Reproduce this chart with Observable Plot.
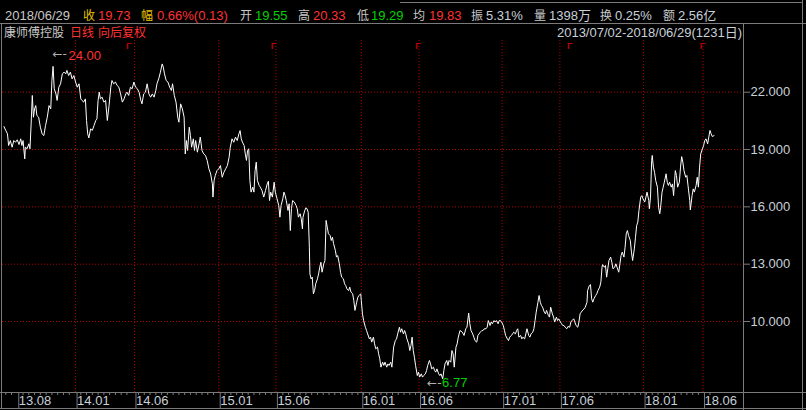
<!DOCTYPE html>
<html><head><meta charset="utf-8">
<script src="https://cdn.jsdelivr.net/npm/d3@7"></script>
<script src="https://cdn.jsdelivr.net/npm/@observablehq/plot@0.6"></script>
<style>
html,body{margin:0;padding:0;background:#000;}
#wrap{position:relative;width:806px;height:410px;background:#000;overflow:hidden;}
#wrap svg{position:absolute;left:0;top:0;}
.ln{position:absolute;background:#7a7a7a;}
</style></head><body><div id="wrap"></div>
<script>
// ---------- data ----------
const quoteDate = "2018/06/29";
const quoteLabels = ["收","幅","开","高","低","均","振","量","换","额"];
const quoteValues = ["19.73","0.66%(0.13)","19.55","20.33","19.29","19.83","5.31%","1398万","0.25%","2.56亿"];
const stockName = "康师傅控股";
const chartTags = ["日线","向后复权"];
const periodText = "2013/07/02-2018/06/29(1231日)";
const yTicks = [10, 13, 16, 19, 22];
const xTickDays = [23, 124, 226, 372, 471, 619, 719, 863, 963, 1108, 1211];
const xTickLabels = ["13.08","14.01","14.06","15.01","15.06","16.01","16.06","17.01","17.06","18.01","18.06"];
const rightsDays = [216, 467, 717, 980, 1210];
const highMark = {day: 84, value: 24.00, label: "24.00"};
const lowMark = {day: 733, value: 6.77, label: "6.77"};
// [trading-day index, close]
const closeByDay = [
[0,20.2],[3,20.0],[6,19.82],[8,19.21],[11,19.47],[14,19.12],[17,19.47],[20,19.38],[23,19.51],[26,19.26],[29,19.56],[31,19.21],[33,19.47],[36,18.51],[37,19.12],[40,19.04],[43,19.3],[45,19.04],[47,20.34],[49,21.83],[51,20.69],[53,21.13],[55,21.3],[57,20.78],[60,20.69],[63,20.17],[66,19.82],[69,19.73],[72,20.26],[75,20.69],[78,21.3],[81,21.13],[83,22.61],[85,23.35],[87,22.18],[90,21.91],[92,21.57],[95,22.26],[98,22.44],[101,22.96],[104,23.05],[107,22.96],[109,23.14],[112,22.87],[115,23.05],[118,22.7],[121,22.87],[124,22.53],[127,22.26],[130,22.44],[133,21.65],[135,21.57],[138,21.48],[141,21.65],[143,20.52],[145,19.82],[147,19.61],[150,20.08],[153,20.0],[156,20.26],[159,20.52],[161,20.61],[163,21.57],[165,22.0],[167,21.65],[170,21.74],[173,21.48],[176,21.57],[179,20.52],[182,21.3],[185,22.26],[187,22.61],[190,22.44],[193,22.53],[196,22.35],[199,22.26],[202,21.91],[205,21.48],[208,21.65],[211,21.91],[213,22.0],[216,21.83],[219,22.26],[222,22.18],[225,22.53],[228,22.26],[231,22.18],[234,22.0],[237,21.57],[239,21.39],[242,21.91],[245,22.0],[248,22.44],[251,21.91],[254,21.74],[257,21.91],[260,21.74],[263,22.09],[265,22.44],[268,22.7],[271,23.05],[274,23.48],[276,23.31],[278,22.96],[281,22.61],[284,22.53],[287,22.26],[290,22.09],[292,22.44],[295,21.83],[298,21.48],[301,20.69],[303,20.43],[306,21.39],[309,21.13],[312,20.69],[314,18.77],[316,19.47],[318,18.95],[321,20.17],[323,19.73],[325,19.12],[328,19.56],[330,18.95],[332,19.47],[335,18.86],[338,19.3],[340,19.65],[343,18.95],[346,18.77],[349,18.69],[352,18.43],[355,17.99],[358,17.72],[361,17.2],[362,16.51],[364,17.38],[366,17.64],[369,17.9],[372,17.99],[375,18.16],[378,17.55],[381,17.81],[384,17.99],[387,18.16],[390,18.6],[392,19.12],[395,19.56],[398,19.38],[401,19.65],[404,19.47],
[407,19.82],[409,19.99],[411,19.56],[413,19.39],[416,19.21],[418,18.77],[420,18.43],[422,18.95],[424,19.04],[426,17.38],[428,16.77],[431,17.03],[433,16.77],[435,17.9],[437,18.34],[439,17.38],[442,17.12],[444,17.03],[447,16.85],[450,16.51],[453,16.85],[456,17.2],[458,17.34],[460,16.33],[462,16.77],[465,16.51],[468,17.29],[470,16.77],[473,16.42],[476,16.07],[478,15.46],[480,16.07],[483,16.42],[485,16.77],[487,16.59],[489,16.33],[492,15.81],[494,16.16],[496,14.76],[498,15.9],[500,16.33],[503,16.25],[506,16.07],[508,15.9],[510,15.46],[513,15.64],[515,15.37],[517,14.85],[518,15.46],[521,15.81],[523,15.95],[525,15.9],[527,15.72],[529,13.89],[530,12.49],[532,12.23],[534,12.32],[536,11.45],[538,11.62],[540,11.97],[543,12.23],[545,12.49],[547,12.84],[549,13.1],[551,12.58],[554,13.02],[556,13.19],[558,15.29],[560,14.94],[562,14.59],[565,14.5],[567,14.24],[569,14.41],[571,14.07],[574,13.72],[576,13.37],[578,13.45],[581,13.02],[583,12.58],[585,12.32],[588,12.23],[590,11.97],[592,11.88],[594,11.71],[597,11.62],[599,11.8],[601,11.54],[604,11.45],[606,11.1],[608,10.58],[611,11.01],[613,11.27],[615,11.36],[618,11.45],[619,11.1],[621,10.4],[623,10.05],[626,9.7],[628,9.53],[630,9.35],[633,9.09],[635,9.18],[637,8.92],[640,9.18],[642,8.83],[644,8.57],[647,8.66],[649,8.31],[651,8.05],[653,7.61],[656,7.87],[658,7.7],[660,7.87],[663,7.61],[665,7.78],[667,7.7],[670,7.87],[672,7.61],[674,8.31],[675,8.66],[678,9.01],[680,9.09],[682,9.35],[685,9.7],[687,9.44],[689,9.62],[692,9.35],[694,9.53],[696,9.35],[698,9.09],[701,8.83],[703,8.48],[705,8.74],[707,9.18],[709,8.48],[711,8.13],[713,7.7],[716,7.17],[718,7.35],[720,7.09],[723,7.26],[725,7.09],[727,7.17],[730,7.26],[732,7.43],[734,7.7],[737,7.96],[739,7.78],[741,7.52],[744,7.61],[746,7.43],[748,7.35],[750,7.52],[753,7.26],[755,7.17],[757,7.26],[760,7.0],[762,7.43],[764,7.78],[767,7.96],[769,7.7],[771,7.96],[774,7.87],[776,8.48],[778,8.31],[780,7.61],[783,8.66],[785,8.83],[787,9.18],[790,9.53],
[794,9.44],[797,9.27],[800,9.62],[802,9.7],[805,10.44],[807,9.88],[809,9.53],[812,9.35],[814,9.18],[816,9.0],[819,8.92],[821,9.27],[823,9.35],[825,9.44],[828,9.53],[830,9.53],[832,9.62],[835,9.62],[837,9.7],[839,10.05],[842,9.79],[844,9.97],[846,9.88],[849,10.05],[851,9.97],[853,10.05],[856,9.88],[858,10.05],[860,10.05],[862,9.97],[865,9.79],[867,9.53],[869,9.27],[872,9.09],[874,9.0],[876,9.18],[879,9.27],[881,9.35],[883,9.44],[886,9.35],[888,9.53],[890,9.62],[892,9.18],[895,9.27],[897,9.09],[899,9.18],[902,9.09],[904,9.35],[906,9.62],[909,9.27],[911,9.18],[913,9.35],[916,9.44],[918,9.62],[920,10.05],[922,10.49],[925,11.01],[927,11.36],[929,11.01],[931,10.84],[933,10.75],[936,10.49],[938,10.4],[940,10.58],[943,10.32],[945,10.23],[947,10.75],[950,10.4],[952,10.23],[954,9.97],[957,10.23],[959,10.05],[961,10.14],[964,9.97],[966,9.88],[968,9.79],[970,9.79],[973,9.67],[975,9.62],[977,9.74],[980,9.7],[982,9.97],[984,10.05],[987,10.14],[989,9.97],[991,9.79],[994,9.7],[996,9.97],[998,10.4],[1000,10.49],[1003,10.61],[1005,10.66],[1007,10.75],[1010,11.01],[1011,11.62],[1014,11.88],[1016,11.93],[1018,11.19],[1020,11.01],[1022,11.19],[1025,11.36],[1027,11.45],[1029,11.62],[1032,11.8],[1034,12.06],[1036,12.84],[1037,12.98],[1040,12.84],[1042,12.93],[1044,12.32],[1046,12.76],[1048,13.19],[1051,13.37],[1053,13.1],[1055,12.76],[1058,12.84],[1060,13.02],[1062,12.84],[1065,12.58],[1067,13.02],[1069,13.45],[1071,13.63],[1074,13.37],[1076,13.89],[1078,14.59],[1080,14.76],[1082,14.5],[1085,14.24],[1087,13.63],[1089,13.19],[1092,13.8],[1094,14.41],[1096,15.02],[1098,15.2],[1100,15.81],[1103,16.51],[1105,16.59],[1107,16.42],[1110,16.25],[1112,16.51],[1114,16.77],[1117,16.33],[1118,15.9],[1120,16.51],[1122,18.43],[1123,18.69],[1125,18.08],[1127,17.81],[1129,17.38],[1132,17.03],[1134,15.98],[1136,15.64],[1137,15.81],[1140,16.77],[1142,17.03],[1144,17.29],[1147,17.73],[1149,17.29],[1151,17.12],[1153,17.29],[1156,17.03],[1158,17.2],[1160,16.59],[1163,17.9],[1165,17.64],[1167,17.03],[1170,17.29],[1172,18.08],[1174,18.63],[1176,18.34],[1178,17.9],[1181,17.55],[1183,17.64],[1185,17.12],[1188,16.33],[1189,15.84],[1192,16.59],[1194,16.94],[1196,16.77],[1199,17.12],[1201,17.55],[1203,17.03],[1205,18.08],[1207,18.77],[1210,19.04],[1212,19.21],[1214,19.47],[1216,19.56],[1219,19.3],[1221,19.65],[1223,20.0],[1225,19.82],[1227,19.68],[1230,19.73]
];

// ---------- style / layout ----------
const W = 806, H = 410;
const GRAY = "#7a7a7a", GRID = "#b00000", TXT = "#c8d0d8", LT = "#c8c8c8";
const RED = "#ff3232", GREEN = "#00d200", YELLOW = "#e8c000";
const NUM = "'Liberation Sans', Arial, sans-serif";
const CJK = "'Noto Sans CJK SC', sans-serif";
const MIX = "'Liberation Sans', 'Noto Sans CJK SC', sans-serif";

const series = closeByDay.map(([day, close]) => ({day, close}));
const minorDays = d3.range(3, 1231, 10).filter(d => xTickDays.every(t => Math.abs(t - d) > 3));

const chart = Plot.plot({
  width: W, height: H,
  marginTop: 40, marginBottom: 18, marginLeft: 2, marginRight: 63,
  style: {background: "transparent", fontFamily: NUM, fontSize: "13px", overflow: "visible"},
  x: {domain: [0, 1230], range: [3.5, 713.5], label: null},
  y: {domain: [10, 22], range: [321, 91.7], label: null},
  marks: [
    Plot.ruleY(yTicks, {stroke: GRID, strokeDasharray: "1,2"}),
    Plot.ruleX(xTickDays.slice(1), {stroke: GRID, strokeDasharray: "1,2"}),
    Plot.axisY({ticks: yTicks, anchor: "right", tickSize: 6, tickPadding: 1, label: null,
      tickFormat: d => d.toFixed(3), stroke: GRAY, fill: TXT, fontSize: 13}),
    Plot.axisX({ticks: xTickDays, anchor: "bottom", tickSize: 16, tickPadding: -13, label: null,
      textAnchor: "start", dx: 1.5, tickFormat: d => xTickLabels[xTickDays.indexOf(d)],
      stroke: GRAY, fill: TXT, fontSize: 13}),
    Plot.axisX({ticks: minorDays, anchor: "bottom", tickSize: 3, label: null, tickFormat: () => "", stroke: GRAY}),
    Plot.line(series, {x: "day", y: "close", stroke: "#ffffff", strokeWidth: 1}),
    Plot.text(rightsDays, {x: d => d, frameAnchor: "top", lineAnchor: "top", text: () => "Γ",
      fill: "#c00000", fontSize: 9, fontWeight: "bold", dy: 2.5}),
    Plot.text([highMark, lowMark], {x: "day", y: "value", text: () => "←-", textAnchor: "start",
      fill: "#b0b0b0", fontSize: 12, fontFamily: "'DejaVu Sans', sans-serif"}),
    Plot.text([highMark], {x: "day", y: "value", text: "label", textAnchor: "start", dx: 16, dy: 2, fill: RED}),
    Plot.text([lowMark], {x: "day", y: "value", text: "label", textAnchor: "start", dx: 15, dy: 0, fill: GREEN})
  ]
});

const wrap = document.getElementById("wrap");
// frame lines (layout)
[[0, 23, W, 1], [743, 24, 1, H - 24], [0, 392, W, 1], [0, 408, W, 1], [1, 24, 1, 384], [802, 0, 1, H], [400, 2, 402, 1]]
  .forEach(([l, t, w, h]) => {
    const d = document.createElement("div");
    d.className = "ln";
    Object.assign(d.style, {left: l + "px", top: t + "px", width: w + "px", height: h + "px"});
    wrap.appendChild(d);
  });
wrap.appendChild(chart);

// header texts
const svg = d3.select(chart);
const g = svg.append("g");
const put = (x, y, s, fill, font, size, anchor = "start") =>
  g.append("text").attr("x", x).attr("y", y).attr("fill", fill).attr("font-family", font)
   .attr("font-size", size).attr("text-anchor", anchor).text(s);

const headerPos = [[83,98],[141,157],[240,255],[298,313],[357,371],[413,429],[471,486],[534,549],[600,615],[663,678]];
const labelColors = [YELLOW, YELLOW, LT, LT, LT, LT, LT, LT, LT, LT];
const valueColors = [RED, RED, GREEN, RED, GREEN, RED, TXT, TXT, TXT, TXT];
put(5, 19.5, quoteDate, LT, NUM, 13);
quoteLabels.forEach((s, i) => {
  put(headerPos[i][0], 19.5, s, labelColors[i], CJK, 12);
  put(headerPos[i][1], 19.5, quoteValues[i], valueColors[i], MIX, 13);
});
put(4, 37, stockName, LT, CJK, 12);
put(70, 37, chartTags[0], RED, CJK, 12);
put(98, 37, chartTags[1], RED, CJK, 12);
put(742, 37, periodText, TXT, MIX, 13, "end");
</script></body></html>
